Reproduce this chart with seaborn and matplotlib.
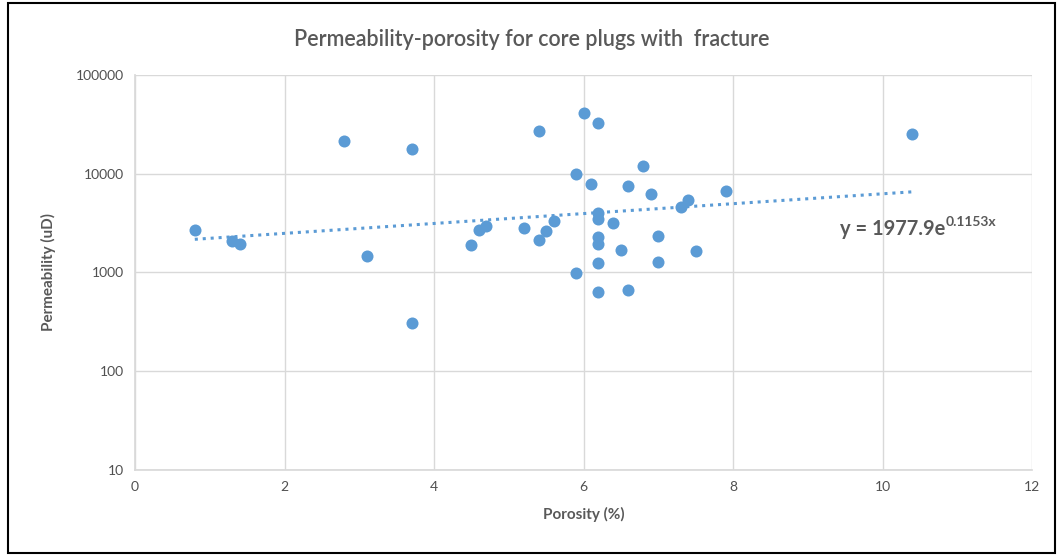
import numpy as np
import pandas as pd
import matplotlib
matplotlib.use("Agg")
import matplotlib.pyplot as plt
import seaborn as sns
from matplotlib.patches import Rectangle

porosity = [0.8, 1.3, 1.4, 2.8, 3.1, 3.7, 3.7, 4.5, 4.6, 4.7, 5.2, 5.4, 5.4, 5.5, 5.6,
            6.0, 6.2, 5.9, 6.1, 6.8, 6.6, 6.9, 7.9, 7.4, 7.3, 6.2, 6.2, 6.4,
            6.2, 6.2, 7.0, 6.5, 7.5, 6.2, 7.0, 5.9, 6.2, 6.6, 10.4]
permeability = [2700, 2100, 1960, 21500, 1480, 17700, 305, 1900, 2700, 2950, 2800, 27000, 2150, 2620, 3300,
                41500, 32500, 10000, 7800, 11900, 7500, 6300, 6700, 5400, 4600, 4050, 3450, 3150,
                2300, 1950, 2350, 1700, 1650, 1240, 1270, 980, 630, 660, 25500]

trend_a = 1977.9
trend_b = 0.1153

df = pd.DataFrame({"Porosity (%)": porosity, "Permeability (uD)": permeability})

sns.set_theme(style="white")
plt.rcParams['font.family'] = ['Lato', 'DejaVu Sans']

fig = plt.figure(figsize=(10.63, 5.56), dpi=100)
ax = fig.add_axes([135/1063, 1 - 470/556, (1032-135)/1063, (470-75)/556])

blue = "#5b9bd5"
gray = "#595959"

sns.scatterplot(data=df, x="Porosity (%)", y="Permeability (uD)", ax=ax,
                color=blue, s=75, edgecolor=blue, linewidth=0, zorder=3)

xs = np.linspace(min(porosity), max(porosity), 200)
ax.plot(xs, trend_a * np.exp(trend_b * xs), linestyle=(0, (1, 1.6)), color=blue, lw=2.2, zorder=2)

ax.set_yscale("log")
ax.set_xlim(0, 12)
ax.set_ylim(10, 100000)
ax.set_xticks(range(0, 13, 2))
ax.set_yticks([10, 100, 1000, 10000, 100000])
ax.set_yticklabels(["10", "100", "1000", "10000", "100000"])
ax.minorticks_off()
ax.grid(True, color="#d9d9d9", lw=1)
ax.tick_params(axis="both", length=0, labelsize=10, colors="#505050", pad=8)
for s in ["top", "right"]:
    ax.spines[s].set_visible(False)
ax.spines["left"].set_color("#d9d9d9")
ax.spines["bottom"].set_color("#d9d9d9")

ax.set_xlabel("Porosity (%)", fontsize=11, color=gray, fontweight="bold", labelpad=10)
ax.set_ylabel("Permeability (uD)", fontsize=11, color=gray, fontweight="bold", labelpad=14)
fig.text(0.5, 1 - 40/556, "Permeability-porosity for core plugs with  fracture",
         ha="center", va="center", fontsize=15.5, color=gray, fontweight="semibold")

t1 = ax.text(9.43, 2780, "y = 1977.9e", fontsize=14.5, color=gray, va="center", ha="left", fontweight="bold")
ax.annotate("0.1153x", xy=(1, 0.55), xycoords=t1, fontsize=10, color=gray, va="bottom", ha="left", fontweight="bold")

fig.patches.append(Rectangle((8/1063, 3/556), 1047/1063, 550/556, transform=fig.transFigure,
                             fill=False, edgecolor="black", lw=1.5))

fig.savefig("out.png", dpi=100)
